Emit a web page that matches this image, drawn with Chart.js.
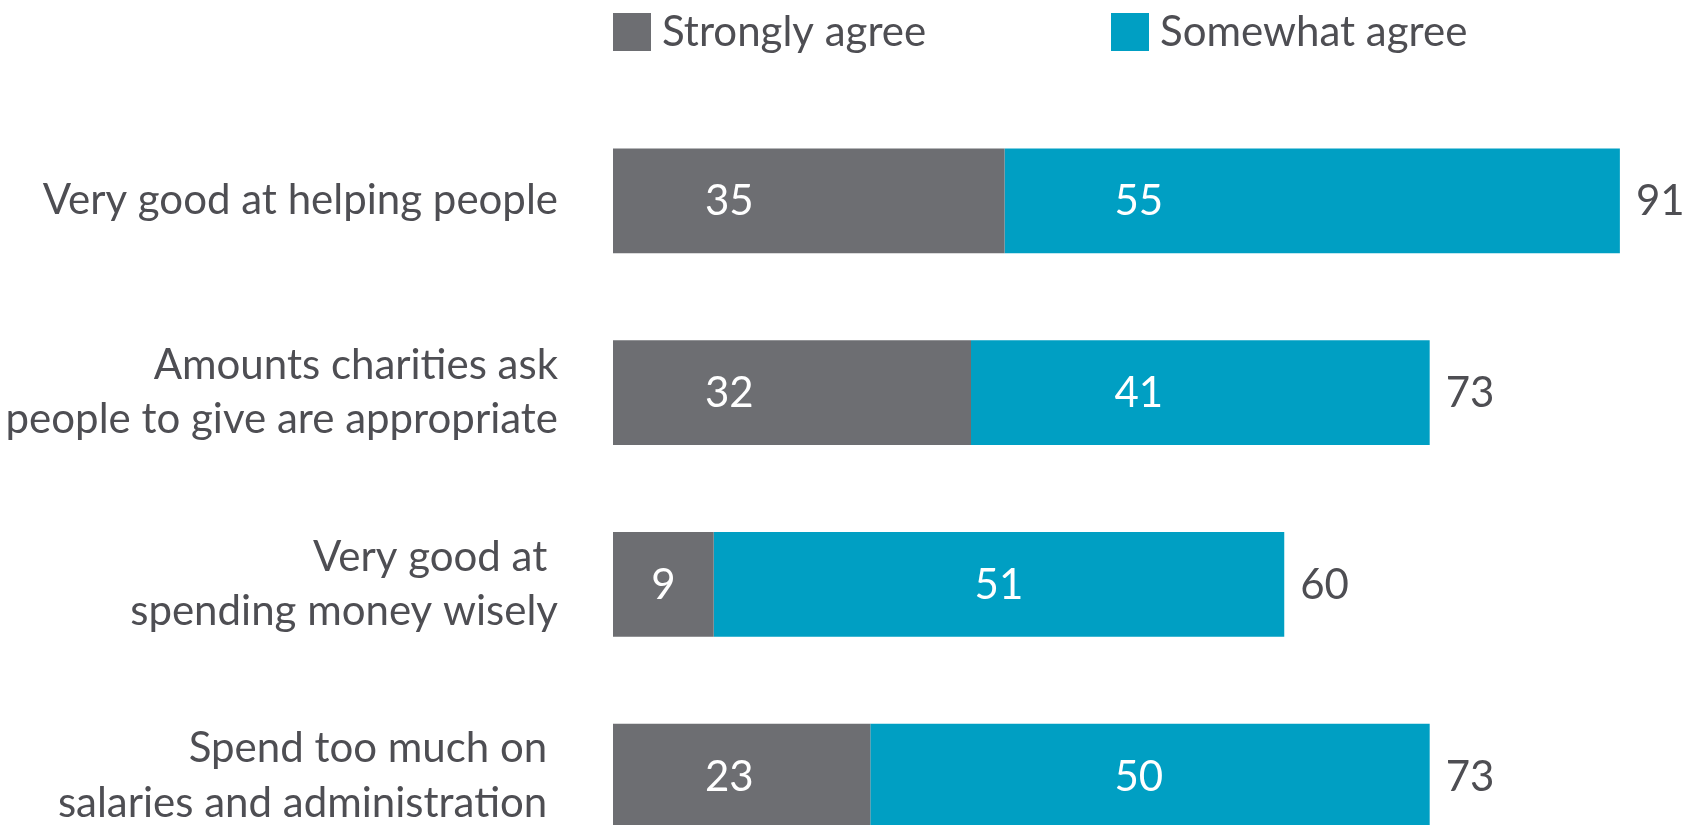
<!DOCTYPE html>
<html>
<head>
<meta charset="utf-8">
<script src="https://cdn.jsdelivr.net/npm/chart.js@4.4.1/dist/chart.umd.min.js"></script>
<style>
  html, body { margin: 0; padding: 0; background: #fff; overflow: hidden; }
  canvas { display: block; }
</style>
</head>
<body>
<canvas id="myChart" width="1692" height="880"></canvas>
<script>
// values
const categories = [
    'Very good at helping people',
    ['Amounts charities ask', 'people to give are appropriate'],
    ['Very good at ', 'spending money wisely'],
    ['Spend too much on ', 'salaries and administration ']
];
const stronglyAgree = [35, 32, 9, 23];
const somewhatAgree = [55, 41, 51, 50];
const totals = [91, 73, 60, 73];

const GRAY = '#6d6e72';
const TEAL = '#009fc3';
const TEXT = '#4e4e53';
const FONT = 'Lato, "Open Sans", sans-serif';

// white numbers inside the segments + total at the end of each bar
const valueLabels = {
    id: 'valueLabels',
    afterDatasetsDraw(chart, args, opts) {
        const ctx = chart.ctx;
        const x = chart.scales.x;
        ctx.save();
        ctx.font = opts.size + 'px ' + FONT;
        ctx.textBaseline = 'middle';
        chart.data.datasets.forEach((ds, i) => {
            chart.getDatasetMeta(i).data.forEach((bar, j) => {
                const mid = (bar.x + bar.base) / 2;
                const px = Math.min(mid, x.getPixelForValue(opts.columns[i]));
                ctx.fillStyle = '#fff';
                ctx.textAlign = 'center';
                ctx.fillText(ds.data[j], px, bar.y + 1);
            });
        });
        const last = chart.getDatasetMeta(chart.data.datasets.length - 1);
        last.data.forEach((bar, j) => {
            ctx.fillStyle = TEXT;
            ctx.textAlign = 'left';
            ctx.fillText(totals[j], bar.x + 16, bar.y + 1);
        });
        ctx.restore();
    }
};

// legend drawn above the plot, aligned with the bars' left edge
const topLegend = {
    id: 'topLegend',
    afterDraw(chart, args, opts) {
        const ctx = chart.ctx;
        const left = chart.chartArea.left;
        ctx.save();
        ctx.font = opts.size + 'px ' + FONT;
        ctx.textBaseline = 'middle';
        ctx.textAlign = 'left';
        chart.data.datasets.forEach((ds, i) => {
            const bx = left + opts.offsets[i];
            ctx.fillStyle = ds.backgroundColor;
            ctx.fillRect(bx, opts.top, opts.box, opts.box);
            ctx.fillStyle = TEXT;
            ctx.fillText(ds.label, bx + opts.box + 11, opts.top + opts.box / 2);
        });
        ctx.restore();
    }
};

const ctx = document.getElementById('myChart').getContext('2d');
const myChart = new Chart(ctx, {
    type: 'bar',
    data: {
        labels: categories,
        datasets: [{
            label: 'Strongly agree',
            data: stronglyAgree,
            backgroundColor: GRAY
        }, {
            label: 'Somewhat agree',
            data: somewhatAgree,
            backgroundColor: TEAL
        }]
    },
    options: {
        indexAxis: 'y',
        responsive: false,
        animation: false,
        datasets: {
            bar: { categoryPercentage: 1, barPercentage: 0.546, borderWidth: 0 }
        },
        layout: { padding: { top: 105, right: 5, bottom: 8, left: 0 } },
        scales: {
            x: {
                stacked: true,
                min: 0,
                max: 96,
                display: false
            },
            y: {
                stacked: true,
                grid: { display: false, drawTicks: false },
                border: { display: false },
                ticks: {
                    color: TEXT,
                    padding: 55,
                    font: { family: FONT, size: 42, lineHeight: 1.3 }
                },
                afterFit(scale) {
                    scale.width = 613;
                    // labels sit in the band centres, no overflow room needed
                    scale.paddingTop = 0;
                    scale.paddingBottom = 0;
                }
            }
        },
        plugins: {
            legend: { display: false },
            tooltip: { enabled: false },
            valueLabels: { size: 42, columns: [10.4, 47] },
            topLegend: { size: 42, top: 13, box: 38, offsets: [0, 498] }
        }
    },
    plugins: [valueLabels, topLegend]
});
</script>
</body>
</html>
